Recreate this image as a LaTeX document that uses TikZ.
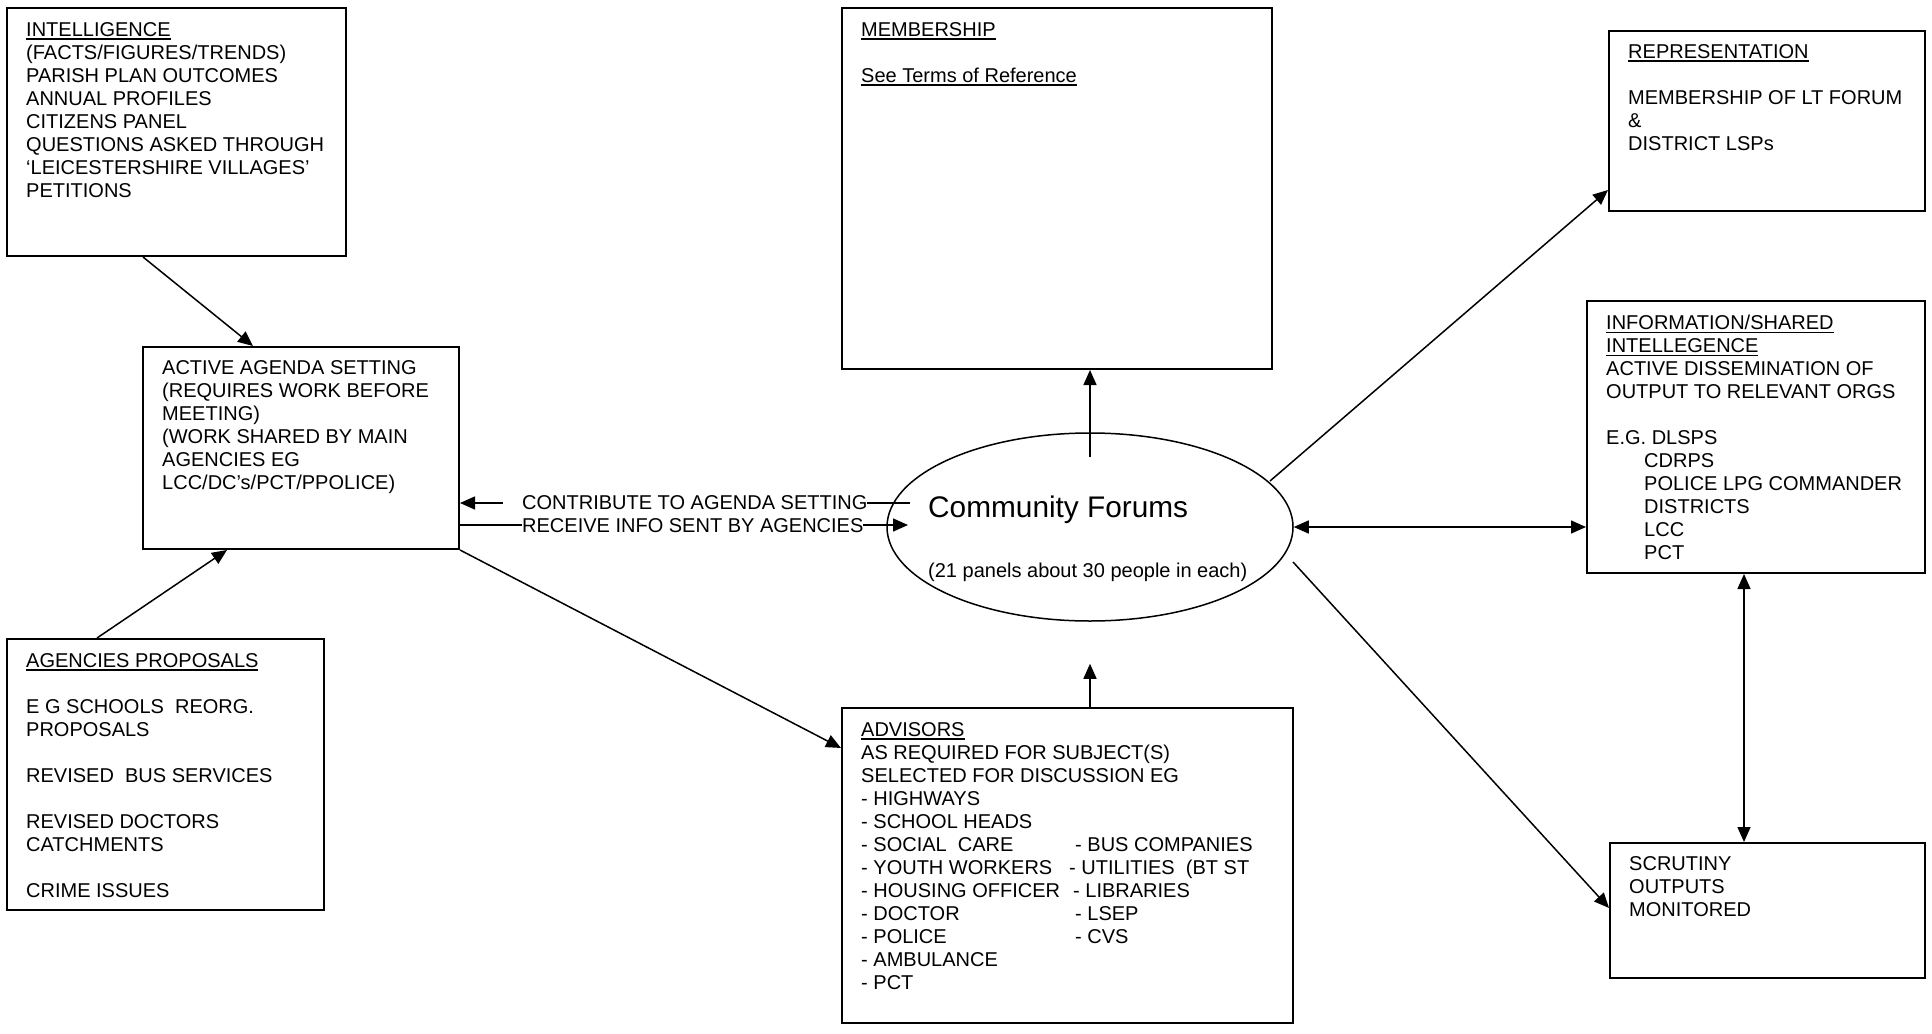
\documentclass[tikz,border=0pt]{standalone}
\usepackage{fontspec}
\setmainfont{Liberation Sans}
\usetikzlibrary{arrows.meta,shapes.geometric,calc}
\newsavebox\ulbox
\newcommand{\ulx}[1]{\sbox\ulbox{#1}\rlap{\rule[-3.8pt]{\wd\ulbox}{1.7pt}}\usebox\ulbox}
\tikzset{
  box/.style={draw, line width=2pt, rectangle, inner sep=0pt, anchor=north west},
  txt/.style={anchor=north west, inner sep=0pt, align=left, font=\fontsize{20}{23}\selectfont},
  midtxt/.style={anchor=base west, inner sep=0pt, fill=white, font=\fontsize{20}{23}\selectfont},
  arr/.style={line width=1.5pt, -{Triangle[length=15pt,width=13pt]}},
  darr/.style={line width=1.5pt, {Triangle[length=15pt,width=13pt]}-{Triangle[length=15pt,width=13pt]}},
}
\begin{document}
\begin{tikzpicture}[x=1pt,y=-1pt]
\useasboundingbox (0,0) rectangle (1932,1033);

% boxes
\node[box, minimum width=339pt, minimum height=248pt] (intel) at (6,7) {};
\node[box, minimum width=316pt, minimum height=202pt] (agenda) at (142,346) {};
\node[box, minimum width=317pt, minimum height=271pt] (agencies) at (6,638) {};
\node[box, minimum width=430pt, minimum height=361pt] (member) at (841,7) {};
\node[box, minimum width=316pt, minimum height=180pt] (repr) at (1608,30) {};
\node[box, minimum width=338pt, minimum height=272pt] (info) at (1586,300) {};
\node[box, minimum width=315pt, minimum height=135pt] (scrut) at (1609,842) {};
\node[box, minimum width=451pt, minimum height=315pt] (advisors) at (841,707) {};
\node[draw, ellipse, line width=1.5pt, minimum width=406pt, minimum height=188pt, inner sep=0pt] (cf) at (1090,527) {};

% connectors
\draw[arr] ($(intel.south west)+(137,0)$) -- ($(agenda.north west)+(111,0)$);
\draw[arr] ($(agencies.north west)+(91,0)$) -- ($(agenda.south west)+(85,0)$);
\draw[arr] (agenda.south east) -- ($(advisors.north west)+(0,41)$);
\coordinate (cu) at ($(cf.center)+(-180,-24)$);
\draw[arr] (cu) -- (agenda.east |- cu);
\coordinate (cl) at ($(cf.center)+(-182,-2)$);
\draw[arr] (agenda.east |- cl) -- (cl);
\coordinate (ctop) at ($(cf.north)+(0,25)$);
\draw[arr] (ctop) -- (member.south -| ctop);
\coordinate (cbot) at ($(cf.south)+(0,42)$);
\draw[arr] (advisors.north -| cbot) -- (cbot);
\draw[arr] ($(cf.center)+(180,-46)$) -- ($(repr.south west)+(0,-22)$);
\draw[darr] (cf.east) -- (info.west |- cf.east);
\draw[arr] ($(cf.center)+(203,35)$) -- ($(scrut.north west)+(0,66)$);
\coordinate (iv) at ($(info.south west)+(158,0)$);
\draw[darr] (iv) -- (scrut.north -| iv);

% texts
\node[txt] (intelt) at (26,22) {\ulx{INTELLIGENCE}\\(FACTS/FIGURES/TRENDS)\\PARISH PLAN OUTCOMES\\ANNUAL PROFILES\\CITIZENS PANEL\\QUESTIONS ASKED THROUGH\\‘LEICESTERSHIRE VILLAGES’\\PETITIONS};
\node[txt] (agendat) at (162,360) {ACTIVE AGENDA SETTING\\(REQUIRES WORK BEFORE\\MEETING)\\(WORK SHARED BY MAIN\\AGENCIES EG\\LCC/DC’s/PCT/PPOLICE)};
\node[txt] (agenciest) at (26,653) {\ulx{AGENCIES PROPOSALS}\\[23pt]E G SCHOOLS\ \ REORG.\\PROPOSALS\\[23pt]REVISED\ \ BUS SERVICES\\[23pt]REVISED DOCTORS\\CATCHMENTS\\[23pt]CRIME ISSUES};
\node[txt] (membert) at (861,22) {\ulx{MEMBERSHIP}\\[23pt]\ulx{See Terms of Reference}};
\node[txt] (reprt) at (1628,44) {\ulx{REPRESENTATION}\\[23pt]MEMBERSHIP OF LT FORUM\\\&\\DISTRICT LSPs};
\node[txt] (infot) at (1606,315) {\ulx{INFORMATION/SHARED}\\\ulx{INTELLEGENCE}\\ACTIVE DISSEMINATION OF\\OUTPUT TO RELEVANT ORGS\\[23pt]E.G. DLSPS\\\hspace*{38pt}CDRPS\\\hspace*{38pt}POLICE LPG COMMANDER\\\hspace*{38pt}DISTRICTS\\\hspace*{38pt}LCC\\\hspace*{38pt}PCT};
\node[txt] (scrutt) at (1629,856) {SCRUTINY\\OUTPUTS\\MONITORED};
\node[txt] (advisorst) at (861,722) {\ulx{ADVISORS}\\AS REQUIRED FOR SUBJECT(S)\\SELECTED FOR DISCUSSION EG\\- HIGHWAYS\\- SCHOOL HEADS\\\makebox[214pt][l]{- SOCIAL\ \ CARE}- BUS COMPANIES\\\makebox[208pt][l]{- YOUTH WORKERS}- UTILITIES\ \ (BT ST\\\makebox[212pt][l]{- HOUSING OFFICER}- LIBRARIES\\\makebox[214pt][l]{- DOCTOR}- LSEP\\\makebox[214pt][l]{- POLICE}- CVS\\- AMBULANCE\\- PCT};
\node[anchor=base west, inner sep=0pt, font=\fontsize{29.8}{34}\selectfont] (cftitle) at (928,517) {Community Forums};
\node[anchor=base west, inner sep=0pt, font=\fontsize{20}{23}\selectfont] (cfsub) at (928,577) {(21 panels about 30 people in each)};
\node[midtxt] (contrib) at (503,509) {\hspace*{19pt}CONTRIBUTE TO AGENDA SETTING};
\node[midtxt] (receive) at (522,532) {RECEIVE INFO SENT BY AGENCIES};
\end{tikzpicture}
\end{document}
